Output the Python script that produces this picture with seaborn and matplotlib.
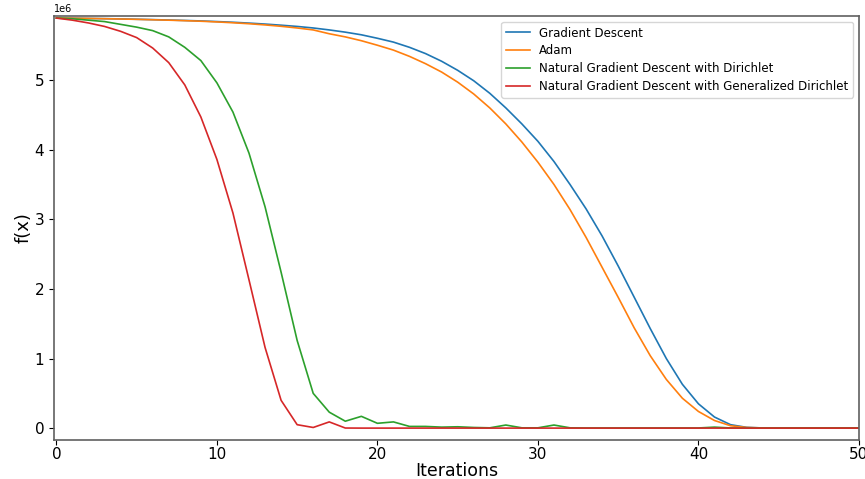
import numpy as np
import pandas as pd
import seaborn as sns
import matplotlib
matplotlib.use("Agg")
import matplotlib.pyplot as plt

# values, in units of 1e6
iterations = list(range(51))

gradient_descent = [5.890, 5.888, 5.885, 5.882, 5.878, 5.873, 5.868, 5.862, 5.856, 5.849,
                    5.840, 5.830, 5.818, 5.804, 5.788, 5.770, 5.748, 5.720, 5.688, 5.650,
                    5.600, 5.545, 5.470, 5.380, 5.270, 5.140, 4.990, 4.810, 4.600, 4.370,
                    4.120, 3.830, 3.500, 3.150, 2.760, 2.330, 1.880, 1.430, 1.000, 0.630,
                    0.350, 0.160, 0.050, 0.012, 0.003, 0.001, 0.001, 0.001, 0.001, 0.001,
                    0.001]

adam = [5.890, 5.888, 5.885, 5.881, 5.877, 5.872, 5.866, 5.860, 5.853, 5.845,
        5.835, 5.823, 5.809, 5.792, 5.772, 5.748, 5.720, 5.665, 5.620, 5.565,
        5.500, 5.430, 5.340, 5.235, 5.115, 4.970, 4.800, 4.600, 4.370, 4.110,
        3.820, 3.500, 3.140, 2.740, 2.310, 1.880, 1.440, 1.040, 0.700, 0.430,
        0.240, 0.110, 0.035, 0.010, 0.003, 0.001, 0.001, 0.001, 0.001, 0.001,
        0.001]

ngd_dirichlet = [5.890, 5.880, 5.860, 5.840, 5.800, 5.760, 5.710, 5.620, 5.470, 5.280,
                 4.960, 4.540, 3.950, 3.180, 2.240, 1.260, 0.500, 0.230, 0.100, 0.170,
                 0.070, 0.090, 0.025, 0.025, 0.015, 0.020, 0.010, 0.005, 0.045, 0.005,
                 0.005, 0.045, 0.005, 0.003, 0.003, 0.003, 0.003, 0.003, 0.003, 0.003,
                 0.003, 0.015, 0.003, 0.002, 0.002, 0.002, 0.002, 0.002, 0.002, 0.002,
                 0.002]

ngd_gen_dirichlet = [5.890, 5.860, 5.820, 5.770, 5.700, 5.610, 5.460, 5.250, 4.930, 4.470,
                     3.860, 3.090, 2.130, 1.160, 0.400, 0.050, 0.010, 0.090, 0.002, 0.001,
                     0.001, 0.001, 0.001, 0.001, 0.001, 0.001, 0.001, 0.001, 0.001, 0.001,
                     0.001, 0.001, 0.001, 0.001, 0.001, 0.001, 0.001, 0.001, 0.001, 0.001,
                     0.001, 0.001, 0.001, 0.001, 0.001, 0.001, 0.001, 0.001, 0.001, 0.001,
                     0.001]

methods = ["Gradient Descent", "Adam", "Natural Gradient Descent with Dirichlet",
           "Natural Gradient Descent with Generalized Dirichlet"]
colors = ["#1f77b4", "#ff7f0e", "#2ca02c", "#d62728"]

frames = []
for name, vals in zip(methods, [gradient_descent, adam, ngd_dirichlet, ngd_gen_dirichlet]):
    frames.append(pd.DataFrame({"Iterations": iterations,
                                "f(x)": np.array(vals) * 1e6,
                                "Method": name}))
df = pd.concat(frames, ignore_index=True)

fig = plt.figure(figsize=(8.65, 4.79), dpi=100)
ax = fig.add_axes([0.0624, 0.0814, 0.9306, 0.8852])

sns.lineplot(data=df, x="Iterations", y="f(x)", hue="Method", hue_order=methods,
             palette=colors, linewidth=1.2, ax=ax)

ax.set_xlim(-0.15, 50)
ax.set_ylim(-0.17e6, 5.92e6)
ax.set_xticks([0, 10, 20, 30, 40, 50])
ax.set_xlabel("Iterations", fontsize=12.5, labelpad=0)
ax.set_ylabel("f(x)", fontsize=13, labelpad=1)
ax.tick_params(labelsize=11)
ax.tick_params(axis="x", pad=1.5)
ax.yaxis.get_offset_text().set_fontsize(7)

for sp in ax.spines.values():
    sp.set_color("#606060")
    sp.set_linewidth(1.2)

ax.legend(title=None, loc="upper right", fontsize=8.5, labelspacing=0.4)

fig.savefig("out.png", dpi=100)
